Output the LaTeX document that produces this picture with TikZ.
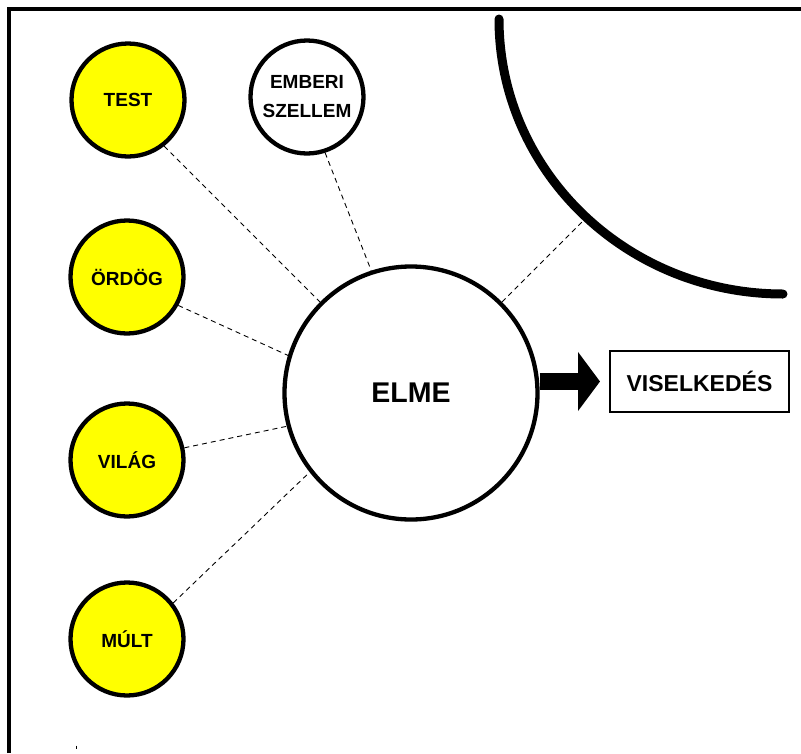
\documentclass[tikz,border=0pt]{standalone}
\usepackage{fontspec}
\setmainfont{Liberation Sans}
\usetikzlibrary{arrows.meta}
\definecolor{pureyellow}{RGB}{255,255,0}
\begin{document}
\begin{tikzpicture}[x=1pt,y=-1pt,
  smallc/.style={circle, draw=black, line width=4.3pt, minimum size=113pt, inner sep=0pt,
    font=\fontsize{19}{29}\selectfont\bfseries, align=center},
  yel/.style={smallc, fill=pureyellow},
  link/.style={line width=0.9pt, dash pattern=on 5pt off 4pt}]
\useasboundingbox (0,0) rectangle (801,753);
% frame
\draw[line width=4pt] (9,753) -- (9,9) -- (801,9);
% big arc
\draw[line width=9pt, line cap=round] (499,19) arc[start angle=180, end angle=90, x radius=284, y radius=275];
\coordinate (arcpt) at (583,221);
% nodes
\node[yel] (test) at (128,100) {TEST};
\node[yel] (ordog) at (127,277) {ÖRDÖG};
\node[yel] (vilag) at (127,460) {VILÁG};
\node[yel] (mult) at (127,639) {MÚLT};
\node[smallc, fill=white] (szellem) at (307,97) {EMBERI\\SZELLEM};
\node[circle, draw=black, fill=white, line width=4.3pt, minimum size=253pt, inner sep=0pt,
  font=\fontsize{28.5}{32}\selectfont\bfseries] (elme) at (411,393) {ELME};
\node[draw=black, line width=2pt, minimum width=179pt, minimum height=61pt, inner sep=0pt,
  font=\fontsize{23}{26}\selectfont\bfseries] (box) at (699.5,381.5) {VISELKEDÉS};
% dashed links
\draw[link] (test.-52) -- (elme.135);
\draw[link] (szellem.-72) -- (elme.108);
\draw[link] (ordog.-29) -- (elme.163);
\draw[link] (vilag.12) -- (elme.-165);
\draw[link] (mult.38) -- (elme.-142);
\draw[link] (elme.45) -- (arcpt);
% block arrow
\draw[line width=17pt, -{Triangle[length=22pt,width=58pt]}] (elme.east |- box.west) -- ([xshift=-9pt]box.west);
% small mark
\draw[line width=1pt] (76,745.5) -- (76,749);
\end{tikzpicture}
\end{document}
